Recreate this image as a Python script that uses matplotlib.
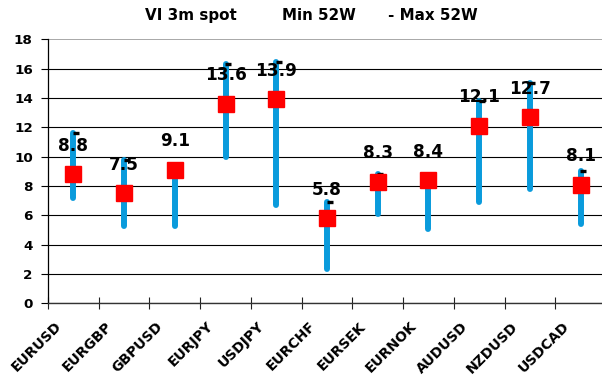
import matplotlib
matplotlib.use("Agg")
import matplotlib.pyplot as plt
from matplotlib.transforms import ScaledTranslation

plt.rcParams['font.family'] = ['DejaVu Sans']
plt.rcParams['font.weight'] = 'bold'

categories = ["EURUSD", "EURGBP", "GBPUSD", "EURJPY", "USDJPY", "EURCHF",
              "EURSEK", "EURNOK", "AUDUSD", "NZDUSD", "USDCAD"]
spot = [8.8, 7.5, 9.1, 13.6, 13.9, 5.8, 8.3, 8.4, 12.1, 12.7, 8.1]
min52 = [7.2, 5.3, 5.3, 9.95, 6.7, 2.35, 6.1, 5.1, 6.9, 7.8, 5.4]
max52 = [11.6, 9.8, 9.3, 16.3, 16.45, 6.9, 8.8, 8.6, 13.8, 15.0, 9.0]
yticks = [0, 2, 4, 6, 8, 10, 12, 14, 16, 18]

fig = plt.figure(figsize=(6.02, 3.78), dpi=100)
ax = fig.add_axes([48/602, (378-303.3)/378, (606-48)/602, (303.3-39.3)/378])

x = list(range(len(categories)))
blue = '#0A9BDC'
for i in x:
    ax.plot([i, i], [min52[i], max52[i]], color=blue, lw=4.3,
            solid_capstyle='round', zorder=3)

dash_tr = ax.transData + ScaledTranslation(2.5/100, 0, fig.dpi_scale_trans)
ax.plot(x, max52, ls='none', marker='_', color='black', markersize=4.5,
        mew=2.4, transform=dash_tr, zorder=4)
ax.plot(x, spot, ls='none', marker='s', color='#FF0000', markersize=11.3,
        zorder=5)
for i in x:
    ax.annotate(f"{spot[i]:.1f}", (i, spot[i]), xytext=(0, 20.5),
                textcoords='offset points', ha='center', va='center',
                fontsize=12.2, fontweight='bold', color='black', zorder=6)

ax.set_ylim(0, 18)
ax.set_xlim(-0.5, len(categories) - 0.5)
ax.set_yticks(yticks)
ax.set_yticklabels([str(v) for v in yticks], fontsize=9.7, fontweight='bold')
ax.tick_params(axis='y', direction='out', length=5, width=0.8, pad=6)
ax.yaxis.grid(True, color='black', lw=0.8)
ax.set_axisbelow(True)

ax.set_xticks(x)
ax.set_xticklabels(categories, rotation=45, ha='right', fontsize=10,
                   fontweight='bold')
ax.tick_params(axis='x', which='major', length=0, pad=10)
ax.set_xticks([i - 0.5 for i in x] + [len(categories) - 0.5], minor=True)
ax.tick_params(axis='x', which='minor', direction='inout', length=8,
               width=0.8, color='#222222')
for lbl in ax.get_xticklabels():
    lbl.set_transform(lbl.get_transform() +
                      ScaledTranslation(-9/100, -2/100, fig.dpi_scale_trans))

for s in ['top', 'right']:
    ax.spines[s].set_visible(False)
ax.spines['left'].set_color('black')
ax.spines['left'].set_linewidth(0.9)
ax.spines['bottom'].set_color('#333333')
ax.spines['bottom'].set_linewidth(1.0)

fig.canvas.draw()
ax.get_ygridlines()[-1].set_color('#999999')
ax.get_ygridlines()[-1].set_linewidth(1.2)

ty = 1 - 20.3/378
fig.text(145/602, ty, "VI 3m spot", ha='left', va='baseline', fontsize=10.9,
         fontweight='bold')
fig.text(282.5/602, ty, "Min 52W", ha='left', va='baseline', fontsize=10.9,
         fontweight='bold')
fig.text(388.5/602, ty, "- Max 52W", ha='left', va='baseline', fontsize=10.9,
         fontweight='bold')

fig.savefig("out.png", dpi=100)
